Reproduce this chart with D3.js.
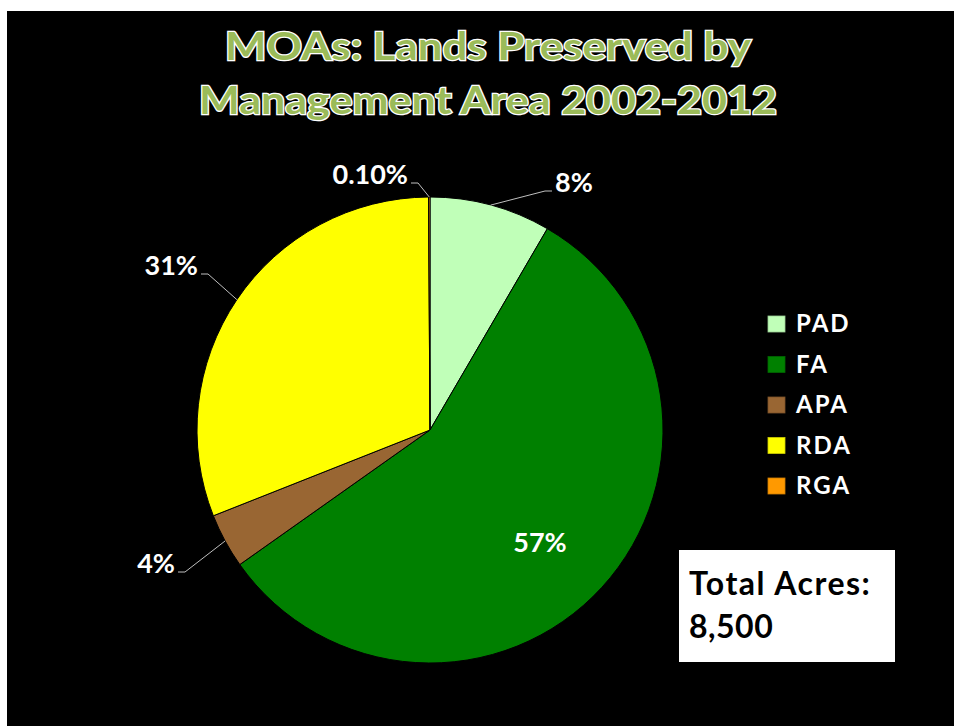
<!DOCTYPE html>
<html><head><meta charset="utf-8">
<script src="https://cdn.jsdelivr.net/npm/d3@7"></script>
<style>html,body{margin:0;padding:0;background:#fff;}svg{display:block;}</style>
</head><body>
<svg id="chart" width="954" height="726"></svg>
<script>
// ---- data ----
const categories = ["PAD", "FA", "APA", "RDA", "RGA"];
const values = [8.4, 56.8, 3.8, 30.9, 0.1];          // percent of 8,500 acres
const labelTexts = ["8%", "57%", "4%", "31%", "0.10%"];
const colors = ["#C0FFB8", "#008000", "#996633", "#FFFF00", "#FF9900"];
const titleLines = ["MOAs: Lands Preserved by", "Management Area 2002-2012"];
const totalLines = ["Total Acres:", "8,500"];

// ---- layout ----
const W = 954, H = 726;
const cx = 430, cy = 430, R = 233;
const font = "Lato, 'Open Sans', sans-serif";
const labelLayout = [
  {x: 555, y: 192, anchor: "start", outside: true},
  {x: 540, y: 552, anchor: "middle", outside: false},
  {x: 175, y: 573, anchor: "end", outside: true},
  {x: 198, y: 275, anchor: "end", outside: true},
  {x: 408, y: 184, anchor: "end", outside: true}
];

const svg = d3.select("#chart");
svg.append("rect").attr("x", 7).attr("y", 11).attr("width", W - 7).attr("height", H - 11).attr("fill", "#000");

// title
titleLines.forEach((t, i) => {
  svg.append("text")
    .attr("x", 488).attr("y", 60 + i * 54)
    .attr("text-anchor", "middle")
    .attr("font-family", font).attr("font-weight", 700).attr("font-size", 39)
    .attr("fill", "#9BBB59").attr("stroke", "#fff").attr("stroke-width", 2.6)
    .attr("paint-order", "stroke")
    .attr("textLength", i === 0 ? 526 : 578).attr("lengthAdjust", "spacingAndGlyphs")
    .text(t);
});

// pie
const data = categories.map((c, i) => ({cat: c, value: values[i], color: colors[i], label: labelTexts[i], lay: labelLayout[i]}));
const pie = d3.pie().value(d => d.value).sort(null);
const arc = d3.arc().innerRadius(0).outerRadius(R);
const arcs = pie(data);
const g = svg.append("g").attr("transform", `translate(${cx},${cy})`);
g.selectAll("path.slice").data(arcs).join("path")
  .attr("class", "slice")
  .attr("d", arc)
  .attr("fill", d => d.data.color)
  .attr("stroke", "#000").attr("stroke-width", 1);

// leader lines and labels
arcs.forEach(a => {
  const L = a.data.lay;
  const mid = (a.startAngle + a.endAngle) / 2;
  if (L.outside) {
    const px = cx + R * Math.sin(mid), py = cy - R * Math.cos(mid);
    const dir = L.anchor === "end" ? 1 : -1;
    const ex = L.x + dir * 3, ey = L.y - 1;
    const hx = ex + dir * 7;
    svg.append("polyline")
      .attr("points", `${ex},${ey} ${hx},${ey} ${px},${py}`)
      .attr("fill", "none").attr("stroke", "#BFBFBF").attr("stroke-width", 1);
  }
  svg.append("text")
    .attr("x", L.x).attr("y", L.y)
    .attr("text-anchor", L.anchor)
    .attr("font-family", font).attr("font-weight", 700).attr("font-size", 27)
    .attr("fill", "#fff")
    .text(a.data.label);
});

// legend
const leg = svg.append("g").attr("transform", "translate(768,316)");
categories.forEach((c, i) => {
  const row = leg.append("g").attr("transform", `translate(0,${i * 40.5})`);
  row.append("rect").attr("width", 17).attr("height", 16)
    .attr("fill", colors[i]).attr("stroke", d3.color(colors[i]).darker(0.6)).attr("stroke-width", 0.8);
  row.append("text").attr("x", 28).attr("y", 16)
    .attr("font-family", font).attr("font-weight", 700).attr("font-size", 24)
    .attr("letter-spacing", 2)
    .attr("fill", "#fff").text(c);
});

// total acres box
svg.append("rect").attr("x", 679).attr("y", 550).attr("width", 216).attr("height", 112).attr("fill", "#fff");
totalLines.forEach((t, i) => {
  svg.append("text").attr("x", 689).attr("y", 595 + i * 43)
    .attr("font-family", font).attr("font-weight", 700).attr("font-size", 32)
    .attr("letter-spacing", i === 0 ? 1.5 : 0.5)
    .attr("fill", "#000").text(t);
});
</script>
</body></html>
